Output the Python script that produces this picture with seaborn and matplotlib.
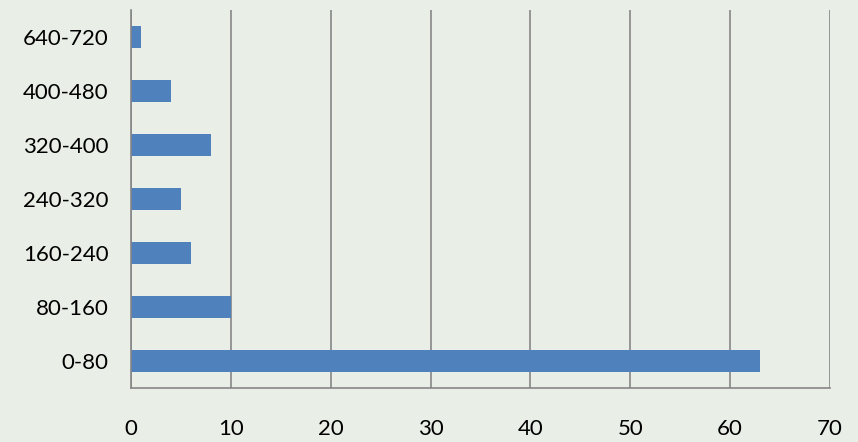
import pandas as pd
import matplotlib
matplotlib.use("Agg")
import matplotlib.pyplot as plt
import seaborn as sns

# --- veri ---
araliklar = ["640-720", "400-480", "320-400", "240-320", "160-240", "80-160", "0-80"]
sayilar = [1, 4, 8, 5, 6, 10, 63]

df = pd.DataFrame({"aralik": araliklar, "sayi": sayilar})

sns.set_style("white")
plt.rcParams["font.family"] = ["Lato", "DejaVu Sans"]

fig = plt.figure(figsize=(8.58, 4.42), dpi=100)
fig.patch.set_facecolor("#e9eee6")
ax = fig.add_axes([131 / 858, 54 / 442, 699 / 858, 378 / 442])
ax.set_facecolor("none")

sns.barplot(data=df, x="sayi", y="aralik", order=araliklar, color="#4f81bd",
            saturation=1, width=0.4, linewidth=0, ax=ax)

ax.set_xlim(0, 70)
ax.set_ylim(6.5, -0.5)
ax.set_xticks(range(0, 71, 10))
ax.grid(axis="x", color="#868686", linewidth=1.2)
ax.set_axisbelow(True)
ax.set_xlabel("")
ax.set_ylabel("")

for s in ["top", "right"]:
    ax.spines[s].set_visible(False)
for s in ["left", "bottom"]:
    ax.spines[s].set_color("#868686")
    ax.spines[s].set_linewidth(1.2)

ax.tick_params(axis="x", length=0, pad=22, labelsize=16, colors="#000000")
ax.tick_params(axis="y", length=0, pad=16, labelsize=16, colors="#000000")

plt.savefig("out.png", dpi=100, facecolor=fig.get_facecolor())
